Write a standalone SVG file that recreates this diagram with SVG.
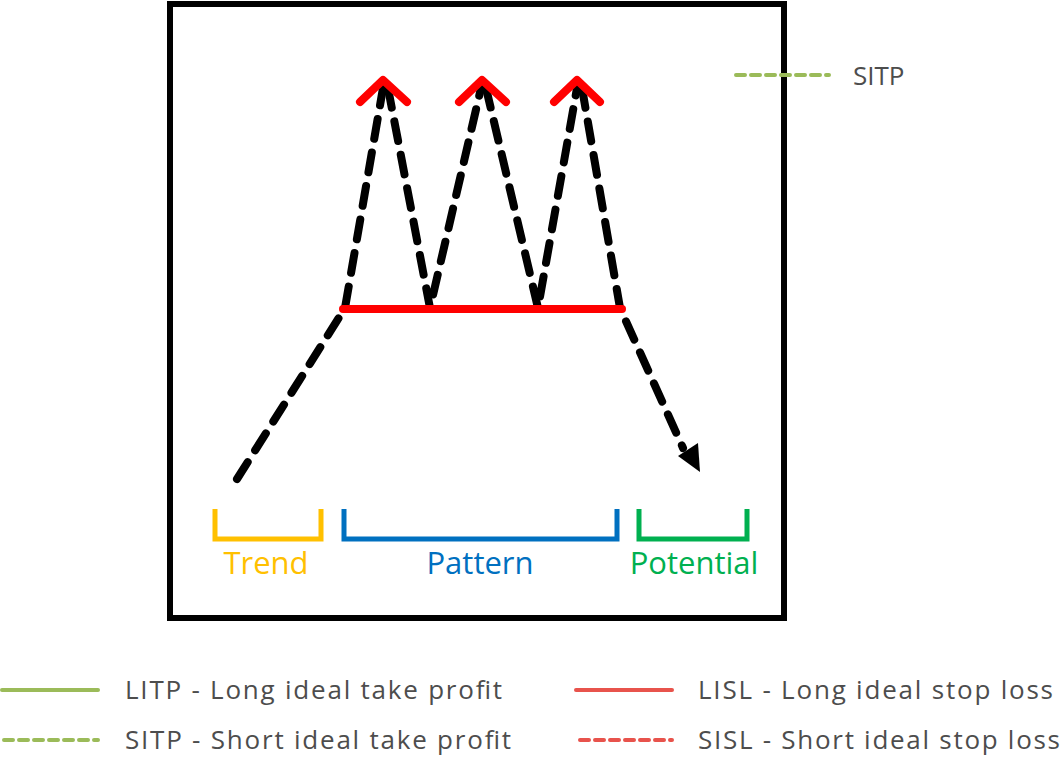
<svg xmlns="http://www.w3.org/2000/svg" width="1060" height="758" viewBox="0 0 1060 758">
<style>
text{font-family:"Open Sans","Liberation Sans",sans-serif}
.lg{font-size:26px;fill:#4d4d4d}
.lb{font-size:31px}
.br{fill:none;stroke-width:5}
.dash{fill:none;stroke:#000;stroke-width:8;stroke-dasharray:20 14;stroke-linecap:round}
.red{fill:none;stroke:#f00;stroke-width:8;stroke-linecap:round;stroke-linejoin:round}
</style>
<rect width="1060" height="758" fill="#fff"/>
<g id="frame"><rect x="170" y="4" width="614" height="614" fill="none" stroke="#000" stroke-width="6"/></g>
<g id="connectors">
<polyline class="dash" points="237,479 345,308 383,88"/>
<polyline class="dash" points="388,88 430,308 481,88"/>
<polyline class="dash" points="486,88 538,308 577,88"/>
<polyline class="dash" points="582,88 620,308 683,448"/>
<polygon points="678,456 700,472 698,443" fill="#000"/>
</g>
<g id="resistance">
<line class="red" x1="343" y1="309" x2="622" y2="309"/>
<polyline class="red" points="360,102 383,80 407,102"/>
<polyline class="red" points="459,102 482,80 506,102"/>
<polyline class="red" points="554,102 577,80 600,102"/>
</g>
<g id="trend"><polyline class="br" stroke="#FFC000" points="215,509 215,539 321,539 321,509"/><text class="lb" x="266" y="574" text-anchor="middle" fill="#FFC000">Trend</text></g>
<g id="pattern"><polyline class="br" stroke="#0070C0" points="344,509 344,539 617,539 617,509"/><text class="lb" x="480" y="574" text-anchor="middle" fill="#0070C0">Pattern</text></g>
<g id="potential"><polyline class="br" stroke="#00B050" points="639,509 639,539 747,539 747,509"/><text class="lb" x="694" y="574" text-anchor="middle" fill="#00B050">Potential</text></g>
<g id="legend-top"><line x1="736" y1="75" x2="829" y2="75" stroke="#9BBB59" stroke-width="4" stroke-dasharray="9 6" stroke-linecap="round"/><text class="lg" x="853" y="85">SITP</text></g>
<g id="legend">
<line x1="2" y1="690" x2="98" y2="690" stroke="#9BBB59" stroke-width="4" stroke-linecap="round"/>
<text class="lg" x="125" y="699" textLength="377">LITP - Long ideal take profit</text>
<line x1="4" y1="740" x2="98" y2="740" stroke="#9BBB59" stroke-width="4" stroke-dasharray="9 6" stroke-linecap="round"/>
<text class="lg" x="125" y="749" textLength="386">SITP - Short ideal take profit</text>
<line x1="576" y1="690" x2="672" y2="690" stroke="#E8534C" stroke-width="4" stroke-linecap="round"/>
<text class="lg" x="698" y="699" textLength="355">LISL - Long ideal stop loss</text>
<line x1="580" y1="740" x2="672" y2="740" stroke="#E8534C" stroke-width="4" stroke-dasharray="9 6" stroke-linecap="round"/>
<text class="lg" x="698" y="749" textLength="362">SISL - Short ideal stop loss</text>
</g>
</svg>
